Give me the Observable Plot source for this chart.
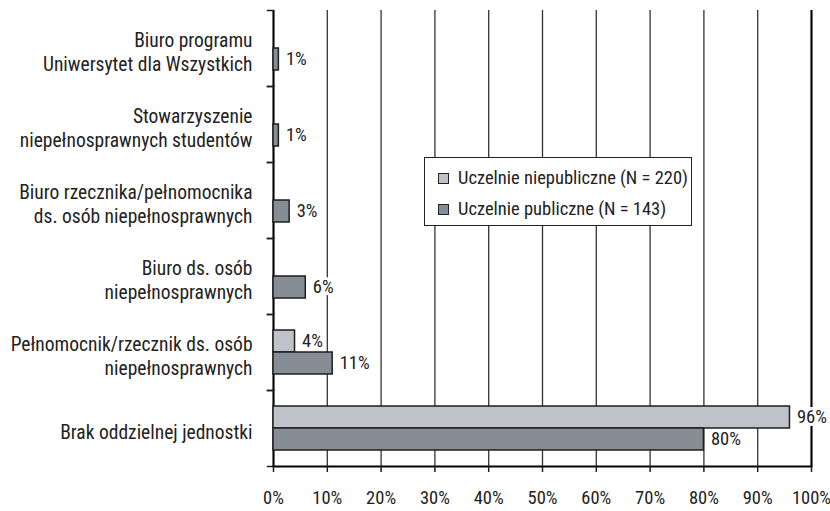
<!DOCTYPE html>
<html>
<head>
<meta charset="utf-8">
<script src="https://cdn.jsdelivr.net/npm/d3@7"></script>
<script src="https://cdn.jsdelivr.net/npm/@observablehq/plot@0.6"></script>
<style>
  html, body { margin: 0; padding: 0; background: #fff; }
  #wrap { position: relative; width: 830px; height: 511px; font-family: "Liberation Sans Narrow", "Roboto Condensed", "DejaVu Sans Condensed", sans-serif; color: #222; }
  #legend { position: absolute; left: 424px; top: 157px; width: 266px; height: 67px; border: 1.5px solid #222; background: #fff; font-size: 18.5px; white-space: nowrap; }
  .item { position: absolute; left: 13px; display: flex; align-items: center; height: 22px; white-space: nowrap; }
  .sw { width: 11px; height: 11px; border: 1.5px solid #222; margin-right: 9px; box-sizing: border-box; flex: none; }
</style>
</head>
<body>
<div id="wrap"></div>
<script>
const categories = [
  "Biuro programu\nUniwersytet dla Wszystkich",
  "Stowarzyszenie\nniepełnosprawnych studentów",
  "Biuro rzecznika/pełnomocnika\nds. osób niepełnosprawnych",
  "Biuro ds. osób\nniepełnosprawnych",
  "Pełnomocnik/rzecznik ds. osób\nniepełnosprawnych",
  "Brak oddzielnej jednostki"
];
const seriesNames = ["Uczelnie niepubliczne (N = 220)", "Uczelnie publiczne (N = 143)"];
const niepubliczne = [null, null, null, null, 4, 96];
const publiczne = [1, 1, 3, 6, 11, 80];
const xTicks = [0, 10, 20, 30, 40, 50, 60, 70, 80, 90, 100];
const colors = ["#c0c2c9", "#878d94"];

const data = categories.flatMap((c, i) => [
  {cat: c, series: seriesNames[0], value: niepubliczne[i]},
  {cat: c, series: seriesNames[1], value: publiczne[i]}
]).filter(d => d.value != null);

const W = 830, H = 511, ML = 273, MR = 19, MT = 7, MB = 43;
const plotW = W - ML - MR;
const ink = "#1e1e1e";
const font = "'Liberation Sans Narrow', 'Roboto Condensed', 'DejaVu Sans Condensed', sans-serif";

const chart = Plot.plot({
  width: W, height: H,
  marginLeft: ML, marginRight: MR, marginTop: MT, marginBottom: MB,
  style: {fontFamily: font, color: "#222", background: "#fff"},
  x: {domain: [0, 100], axis: null},
  y: {domain: seriesNames, paddingInner: 0, paddingOuter: 0.67, axis: null},
  fy: {domain: categories, padding: 0, axis: null},
  color: {domain: seriesNames, range: colors},
  marks: [
    Plot.ruleX(xTicks, {stroke: "#333", strokeWidth: 1.3}),
    Plot.ruleX([0, 100], {stroke: "#000", strokeWidth: 2}),
    Plot.frame({anchor: "top", insetLeft: -6, insetRight: plotW, stroke: ink, strokeWidth: 1.5}),
    Plot.frame({anchor: "bottom", insetLeft: -6, insetRight: plotW, stroke: ink, strokeWidth: 1.5}),
    Plot.frame({anchor: "bottom", facet: "super", stroke: "#000", strokeWidth: 2}),
    Plot.barX(data, {fy: "cat", y: "series", x: "value", fill: "series", stroke: ink, strokeWidth: 1.5}),
    Plot.text(data, {fy: "cat", y: "series", x: "value", text: d => d.value + "%", dx: 7, textAnchor: "start",
      fontSize: 18.5, fill: "#222", stroke: "#fff", strokeWidth: 6, paintOrder: "stroke"}),
    Plot.axisX({anchor: "bottom", ticks: xTicks, tickFormat: d => d + "%", tickSize: 6, tickPadding: 18,
      fontSize: 18.5, stroke: ink, strokeWidth: 1.5, label: null}),
    Plot.axisFy({anchor: "left", tickSize: 0, tickPadding: 21, fontSize: 19.5, lineHeight: 1.22, dy: 3, label: null})
  ]
});

const wrap = document.getElementById("wrap");
wrap.appendChild(chart);
const legend = document.createElement("div");
legend.id = "legend";
seriesNames.forEach((s, i) => {
  const it = document.createElement("div");
  it.className = "item";
  it.style.top = (i === 0 ? 9 : 40) + "px";
  const sw = document.createElement("div");
  sw.className = "sw";
  sw.style.background = colors[i];
  const tx = document.createElement("span");
  tx.textContent = s;
  it.appendChild(sw); it.appendChild(tx);
  legend.appendChild(it);
});
wrap.appendChild(legend);
</script>
</body>
</html>
